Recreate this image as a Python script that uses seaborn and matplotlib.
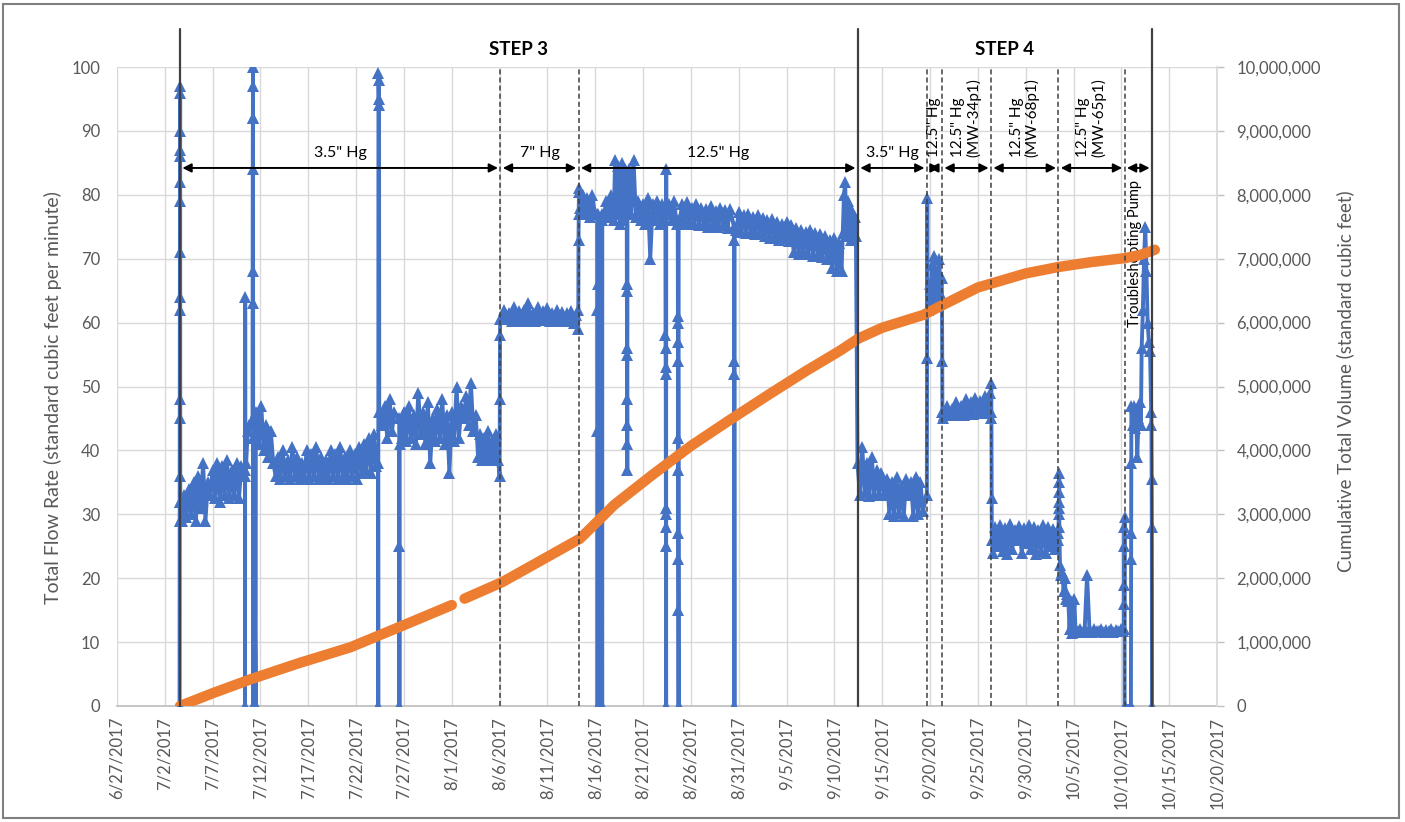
import pandas as pd
import matplotlib
matplotlib.use("Agg")
import matplotlib.pyplot as plt
import matplotlib.dates as mdates
from matplotlib.patches import Rectangle
from matplotlib.ticker import FuncFormatter
import seaborn as sns

# ---------------- Total flow rate readings (scfm) ----------------
# Each run is logged from a start time at a fixed interval (hours).
flow_startup = [0, 29, 32, 36, 45, 48, 62, 64, 71, 79, 82, 86, 87, 90, 96, 97, 32, 29]
flow_jul03 = [29, 33, 29.5, 34, 30, 35, 29, 36, 31, 38, 29, 35]
flow_jul06 = [33, 37, 32.5, 38, 32, 37.5, 33, 38.5, 32.5, 37, 33, 38, 32.5, 37.5]
flow_dip_jul10 = [37, 0, 64, 36]
flow_jul10 = [38, 43, 44]
flow_surge_jul11 = [44, 63, 68, 84, 92, 97, 100, 92, 45, 0, 42]
flow_dip_jul11 = [0, 45]
flow_jul11 = [46, 41, 47, 40, 44, 39, 43, 38]
flow_jul13 = [36, 39, 35.5, 40, 36, 38.5, 35.5, 40.5, 36, 39,
              35.5, 38, 36, 40, 35.5, 39.5, 36, 40.5, 35.5, 39,
              36, 38.5, 35.5, 40, 36, 39.5, 35.5, 40.5, 36, 39,
              35.5, 40, 36, 39.5, 35.5, 40.5, 36.5, 41, 37, 42, 36.5, 42.5, 37.5]
flow_surge_jul24 = [38, 0, 99, 98, 95, 94, 46]
flow_jul24 = [44, 47, 42, 48, 43, 46]
flow_dip_jul26 = [45, 25, 0, 41]
flow_jul26 = [42, 46, 41.5, 47, 42, 45.5, 41, 49, 42.5, 46, 41, 47.5, 38,
              45, 41.5, 46.5, 42, 48, 41, 45.5, 36.5, 46, 41.5, 50, 42, 47]
flow_aug02 = [45, 48.5, 44, 50.5, 43, 45.5]
flow_aug03 = [39, 42.5, 38.5, 42, 39, 43, 38.5, 41.5, 39, 42.5, 38.5]
flow_ramp_aug06 = [36, 48, 58, 60.5]
flow_aug06 = [60.5, 62, 60.5, 61.5, 60.3, 62.5, 60.5, 61.8, 60.3, 62, 60.5, 63, 60.3, 61.5, 60.3, 62.5,
              60.4, 61.8, 60.5, 62.3, 60.3, 61.5, 60.4, 62, 60.3, 61.7, 60.2, 61.5, 60.3, 61.8, 60, 61.2]
flow_ramp_aug14 = [59, 62, 73, 77, 80.5, 81]
flow_aug14 = [78, 80, 77, 79.5, 76.5, 80, 77.5]
flow_dip_aug16a = [77, 62, 43, 0, 66, 77]
flow_dip_aug16b = [76, 0, 77]
flow_aug16 = [77, 79, 76.5, 80]
flow_aug17 = [76, 85.5, 77, 84.5, 75.5, 85, 76, 84]
flow_dip_aug19 = [78, 66, 65, 56, 48, 44, 41, 37, 55, 77]
flow_aug19 = [84, 77, 85.5, 76.5, 79, 76, 78.5, 75.5, 79.5, 70, 78.5, 76, 79, 75.5, 78.5, 76]
flow_dip_aug23 = [76, 58, 56, 53, 52, 31, 30, 28, 25, 0, 84, 77]
flow_aug23 = [77, 78.5, 76, 79, 75.5]
flow_dip_aug24 = [76, 61, 60, 57, 54, 42, 37, 27, 23, 15, 0, 76]
flow_aug25 = [76, 78.5, 75.5, 78.8, 75.8, 78, 75.5, 78.5, 75.2, 78, 75.5,
              77.8, 75, 78.2, 75.3, 77.5, 75, 78, 75.2, 77.6, 74.8, 77.8]
flow_dip_aug30 = [75, 73, 54, 52, 0, 75]
flow_aug30 = [74.5, 77.3, 74.2, 76.8, 74, 77, 74.2, 76.5, 73.8, 76.8, 74, 76.3,
              73.5, 76, 73.2, 76.2, 73.5, 75.8, 73, 75.5, 73.2, 75.8, 72.8, 75.2,
              71, 74.8, 70.8, 74.5, 71.2, 74.2, 70.8, 74.5, 70.5, 74, 70.8, 73.8,
              70.2, 73.5, 70, 73, 68.5, 73.2, 68, 72.5]
flow_sep10 = [68, 74, 80, 82, 73.5, 79, 74, 78, 73, 77.5, 74, 76.5, 73.5]
flow_sep12 = [38, 33, 40.5, 33.5, 38, 32.8, 39, 33, 37, 33.2, 36.5, 33]
flow_sep15 = [35.5, 30, 35, 29.7, 35.8, 30.2, 34.5, 29.7, 35.5, 33, 35, 29.8, 35.8, 30, 35, 30.5]
flow_surge_sep19 = [33, 54.5, 79.5, 62]
flow_sep19 = [62, 66, 63, 69, 64, 70.5, 63, 68, 65, 70, 64, 67]
flow_drop_sep21 = [64, 54, 46, 45]
flow_sep21 = [45.5, 47, 45.8, 46.5, 45.5, 47.5, 45.8, 47, 45.5, 48,
              46, 47.5, 45.7, 48.2, 46, 47.8, 45.8, 48.5, 46, 49]
flow_drop_sep26 = [46, 50.5, 45, 32.5, 26]
flow_sep26 = [24, 28, 25, 28.3, 24.2, 27.8, 23.8, 28.5, 24.5, 27.5, 26, 28.2, 24, 27.8,
              25.5, 28.4, 24.5, 28, 23.8, 27.6, 24.2, 28.3, 24, 28, 25, 27.7, 24.5]
flow_surge_oct03 = [26, 27, 30, 31, 32, 33.5, 35, 36.5, 28]
flow_oct03 = [22, 20.5, 21, 18, 20, 16.8, 17.5, 16.5, 12, 16.5, 11.5, 12, 16.8, 11.8]
flow_oct05 = [11.8, 12, 11.6, 12.1, 20.5, 11.9, 11.6, 12, 11.8, 11.7,
              12, 11.6, 11.9, 11.7, 12.1, 11.6, 11.9, 11.7, 12, 11.8]
flow_dip_oct10a = [12, 16, 19, 25, 28, 29.5, 0]
flow_dip_oct10b = [0, 23, 27, 38, 47]
flow_oct11 = [44, 47, 43.5, 46, 39, 45, 47.5, 44]
flow_oct12 = [56, 62, 70, 75, 68, 60, 57, 55.5]
flow_shutdown_oct13 = [46, 44, 35.5, 28, 0]

flow_schedule = [
    ("2017-07-03 13:00", 0.1, flow_startup),
    ("2017-07-03 18:00", 6, flow_jul03),
    ("2017-07-06 18:00", 6, flow_jul06),
    ("2017-07-10 09:00", 0.3, flow_dip_jul10),
    ("2017-07-10 12:00", 4, flow_jul10),
    ("2017-07-11 04:00", 0.2, flow_surge_jul11),
    ("2017-07-11 12:00", 0.3, flow_dip_jul11),
    ("2017-07-11 14:00", 6, flow_jul11),
    ("2017-07-13 14:00", 6, flow_jul13),
    ("2017-07-24 07:00", 0.5, flow_surge_jul24),
    ("2017-07-24 18:00", 6, flow_jul24),
    ("2017-07-26 12:00", 0.3, flow_dip_jul26),
    ("2017-07-26 18:00", 6, flow_jul26),
    ("2017-08-02 06:00", 6, flow_aug02),
    ("2017-08-03 18:00", 5, flow_aug03),
    ("2017-08-06 00:00", 0.5, flow_ramp_aug06),
    ("2017-08-06 06:00", 6, flow_aug06),
    ("2017-08-14 05:00", 0.5, flow_ramp_aug14),
    ("2017-08-14 10:00", 6, flow_aug14),
    ("2017-08-16 05:00", 0.3, flow_dip_aug16a),
    ("2017-08-16 17:00", 0.3, flow_dip_aug16b),
    ("2017-08-16 22:00", 6, flow_aug16),
    ("2017-08-17 22:00", 4, flow_aug17),
    ("2017-08-19 07:00", 0.2, flow_dip_aug19),
    ("2017-08-19 12:00", 6, flow_aug19),
    ("2017-08-23 08:00", 0.2, flow_dip_aug23),
    ("2017-08-23 12:00", 6, flow_aug23),
    ("2017-08-24 15:00", 0.2, flow_dip_aug24),
    ("2017-08-24 20:00", 6, flow_aug25),
    ("2017-08-30 12:00", 0.3, flow_dip_aug30),
    ("2017-08-30 18:00", 6, flow_aug30),
    ("2017-09-10 18:00", 3, flow_sep10),
    ("2017-09-12 10:00", 6, flow_sep12),
    ("2017-09-15 12:00", 6, flow_sep15),
    ("2017-09-19 16:00", 0.5, flow_surge_sep19),
    ("2017-09-19 20:00", 3, flow_sep19),
    ("2017-09-21 06:00", 0.5, flow_drop_sep21),
    ("2017-09-21 12:00", 6, flow_sep21),
    ("2017-09-26 09:00", 0.5, flow_drop_sep26),
    ("2017-09-26 14:00", 6, flow_sep26),
    ("2017-10-03 10:00", 0.3, flow_surge_oct03),
    ("2017-10-03 14:00", 3, flow_oct03),
    ("2017-10-05 10:00", 6, flow_oct05),
    ("2017-10-10 07:00", 0.2, flow_dip_oct10a),
    ("2017-10-11 00:00", 0.3, flow_dip_oct10b),
    ("2017-10-11 04:00", 3, flow_oct11),
    ("2017-10-12 03:00", 3, flow_oct12),
    ("2017-10-13 03:00", 0.5, flow_shutdown_oct13),
]

# ---------------- Cumulative total volume (scf) ----------------
volume_dates_a = ["2017-07-03 14:00", "2017-07-07 00:00", "2017-07-11 00:00", "2017-07-16 00:00",
                  "2017-07-21 10:00", "2017-07-26 14:00", "2017-08-01 00:00"]
volume_values_a = [0, 200000, 420000, 670000, 920000, 1240000, 1580000]
volume_dates_b = ["2017-08-02 08:00", "2017-08-06 07:00", "2017-08-10 00:00", "2017-08-14 10:00",
                  "2017-08-18 00:00", "2017-08-22 00:00", "2017-08-26 00:00", "2017-08-30 00:00",
                  "2017-09-03 00:00", "2017-09-07 00:00", "2017-09-10 14:00", "2017-09-12 12:00",
                  "2017-09-15 00:00", "2017-09-19 07:00", "2017-09-21 00:00", "2017-09-23 00:00",
                  "2017-09-25 00:00", "2017-09-27 07:00", "2017-09-30 00:00", "2017-10-03 10:00",
                  "2017-10-07 00:00", "2017-10-10 10:00", "2017-10-12 00:00", "2017-10-13 12:00"]
volume_values_b = [1680000, 1940000, 2250000, 2620000, 3150000, 3620000, 4070000, 4470000,
                   4860000, 5240000, 5560000, 5750000, 5920000, 6120000, 6250000, 6400000,
                   6550000, 6650000, 6770000, 6870000, 6950000, 7010000, 7060000, 7140000]

# ---------------- Test periods ----------------
step_bounds = ["2017-07-03 14:00", "2017-09-12 11:00", "2017-10-13 05:00"]
step_labels = ["STEP 3", "STEP 4"]
period_bounds = ["2017-07-03 14:00", "2017-08-06 02:00", "2017-08-14 06:00", "2017-09-12 11:00",
                 "2017-09-19 16:00", "2017-09-21 06:00", "2017-09-26 09:00", "2017-10-03 10:00",
                 "2017-10-10 08:00", "2017-10-13 05:00"]
period_labels = ['3.5" Hg', '7" Hg', '12.5" Hg', '3.5" Hg', '12.5" Hg',
                 '12.5" Hg\n(MW-34p1)', '12.5" Hg\n(MW-68p1)', '12.5" Hg\n(MW-65p1)',
                 'Troubleshooting Pump']
period_label_vertical = [False, False, False, False, True, True, True, True, True]

x_start, x_end = "2017-06-27", "2017-10-20"

BLUE = "#4472C4"
ORANGE = "#ED7D31"
GRID = "#D9D9D9"
TEXT = "#595959"
LINE = "#404040"

# ---------------- assemble frames ----------------
times, rates = [], []
for start, step_h, vals in flow_schedule:
    t0 = pd.Timestamp(start)
    for i, v in enumerate(vals):
        times.append(t0 + pd.Timedelta(hours=step_h * i))
        rates.append(v)
flow = pd.DataFrame({"time": times, "flow": rates})

volume = pd.concat([
    pd.DataFrame({"time": pd.to_datetime(volume_dates_a, format="ISO8601"),
                  "volume": volume_values_a, "run": 0}),
    pd.DataFrame({"time": pd.to_datetime(volume_dates_b, format="ISO8601"),
                  "volume": volume_values_b, "run": 1}),
], ignore_index=True)

# ---------------- figure ----------------
sns.set_theme(style="white")
plt.rcParams["font.family"] = ["Lato", "DejaVu Sans"]

W, H = 1405, 822
fig = plt.figure(figsize=(W / 100, H / 100), dpi=100)
px_l, px_r, px_t, px_b = 117, 1217, 67, 706
ax = fig.add_axes([px_l / W, 1 - px_b / H, (px_r - px_l) / W, (px_b - px_t) / H])

sns.lineplot(data=flow, x="time", y="flow", ax=ax, sort=False, estimator=None,
             color=BLUE, linewidth=2.8, marker="^", markersize=8.2,
             markeredgewidth=0, zorder=3)

ax.set_xlim(pd.Timestamp(x_start), pd.Timestamp(x_end))
ax.set_ylim(0, 100)
ax.set_yticks(range(0, 101, 10))
xticks = pd.date_range(x_start, x_end, freq="5D")
ax.set_xticks(xticks)
ax.set_xticklabels([f"{d.month}/{d.day}/{d.year}" for d in xticks], rotation=90)
ax.grid(True, color=GRID, linewidth=1)
ax.set_axisbelow(True)
ax.set_xlabel("")
ax.set_ylabel("")
ax.tick_params(axis="y", length=0, pad=12, labelsize=12, labelcolor=TEXT)
ax.tick_params(axis="x", length=0, pad=8, labelsize=12, labelcolor=TEXT)
for s in ["left", "top", "right"]:
    ax.spines[s].set_visible(False)
ax.spines["bottom"].set_color("#BFBFBF")

ax2 = ax.twinx()
sns.lineplot(data=volume, x="time", y="volume", units="run", estimator=None, ax=ax2,
             color=ORANGE, linewidth=7.5, zorder=4)
for ln in ax2.lines:
    ln.set_solid_capstyle("round")
    ln.set_solid_joinstyle("round")
ax2.set_ylim(0, 10_000_000)
ax2.set_yticks(range(0, 10_000_001, 1_000_000))
ax2.yaxis.set_major_formatter(FuncFormatter(lambda v, p: f"{int(v):,}"))
ax2.set_ylabel("")
ax2.set_xlabel("")
ax2.tick_params(axis="y", length=5, width=1, color="#BFBFBF", pad=9,
                labelsize=12, labelcolor=TEXT)
for s in ["left", "top", "bottom"]:
    ax2.spines[s].set_visible(False)
ax2.spines["right"].set_color(GRID)

# ---------------- period markers ----------------
xfrac = ("data", "axes fraction")
for b in period_bounds:
    if b in step_bounds:
        continue
    ax2.axvline(mdates.date2num(pd.Timestamp(b)), ymin=0, ymax=1, color=LINE,
                linewidth=1.1, linestyle=(0, (3.3, 2.0)), zorder=6)
for b in step_bounds:
    xb = mdates.date2num(pd.Timestamp(b))
    ax2.plot([xb, xb], [0, 1.06], transform=ax2.get_xaxis_transform(), color=LINE,
             linewidth=1.6, clip_on=False, zorder=6)

for i, label in enumerate(step_labels):
    xa = mdates.date2num(pd.Timestamp(step_bounds[i]))
    xb = mdates.date2num(pd.Timestamp(step_bounds[i + 1]))
    ax2.text((xa + xb) / 2, 1.027, label, transform=ax2.get_xaxis_transform(),
             ha="center", va="center", fontsize=13.5, fontweight="bold", color="black")

arrow_y = 0.842
inset = 0.25
for i, label in enumerate(period_labels):
    xa = mdates.date2num(pd.Timestamp(period_bounds[i])) + inset
    xb = mdates.date2num(pd.Timestamp(period_bounds[i + 1])) - inset
    ax2.annotate("", xy=(xb, arrow_y), xytext=(xa, arrow_y), xycoords=xfrac, textcoords=xfrac,
                 arrowprops=dict(arrowstyle="<|-|>", color="black", lw=1.4,
                                 mutation_scale=13, shrinkA=0, shrinkB=0), zorder=7)
    xm = (xa + xb) / 2
    if label == "Troubleshooting Pump":
        ax2.text(xm - 0.3, 0.823, label, transform=ax2.get_xaxis_transform(), rotation=90,
                 rotation_mode="anchor", ha="right", va="center", fontsize=10.5, color="black")
    elif period_label_vertical[i]:
        ax2.text(xm, 0.859, label, transform=ax2.get_xaxis_transform(), rotation=90,
                 rotation_mode="anchor", ha="left", va="center", multialignment="left",
                 fontsize=11, color="black", linespacing=1.1)
    else:
        ax2.text(xm, 0.865, label, transform=ax2.get_xaxis_transform(),
                 ha="center", va="center", fontsize=11.5, color="black")

# ---------------- axis titles and frame ----------------
fig.text(53 / W, 1 - 398 / H, "Total Flow Rate (standard cubic feet per minute)",
         rotation=90, ha="center", va="center", fontsize=14, color=TEXT)
fig.text(1345 / W, 1 - 381 / H, "Cumulative Total Volume (standard cubic feet)",
         rotation=90, ha="center", va="center", fontsize=13.5, color=TEXT)
fig.add_artist(Rectangle((3 / W, 4 / H), 1396 / W, 814 / H, transform=fig.transFigure,
                         fill=False, edgecolor="#7F7F7F", linewidth=1.5))

fig.savefig("out.png", dpi=100)
